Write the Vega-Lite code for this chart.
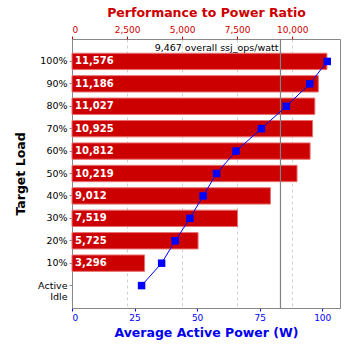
{
  "$schema": "https://vega.github.io/schema/vega-lite/v6.json",
  "width": 268,
  "height": 269,
  "autosize": {"type": "none"},
  "padding": {"left": 72, "top": 39, "right": 8, "bottom": 40},
  "config": {
    "font": "DejaVu Sans",
    "view": {"stroke": "#888888", "strokeWidth": 1}
  },
  "data": {
    "values": [
      {"load": "100%", "ratio": 11576, "power": 102.0, "label": "11,576"},
      {"load": "90%", "ratio": 11186, "power": 95.0, "label": "11,186"},
      {"load": "80%", "ratio": 11027, "power": 85.66, "label": "11,027"},
      {"load": "70%", "ratio": 10925, "power": 75.65, "label": "10,925"},
      {"load": "60%", "ratio": 10812, "power": 65.53, "label": "10,812"},
      {"load": "50%", "ratio": 10219, "power": 57.77, "label": "10,219"},
      {"load": "40%", "ratio": 9012, "power": 52.41, "label": "9,012"},
      {"load": "30%", "ratio": 7519, "power": 47.11, "label": "7,519"},
      {"load": "20%", "ratio": 5725, "power": 41.25, "label": "5,725"},
      {"load": "10%", "ratio": 3296, "power": 35.82, "label": "3,296"},
      {"load": "Active Idle", "ratio": null, "power": 27.8, "label": ""}
    ]
  },
  "encoding": {
    "y": {
      "field": "load",
      "type": "nominal",
      "scale": {
        "domain": ["100%", "90%", "80%", "70%", "60%", "50%", "40%", "30%", "20%", "10%", "Active Idle"],
        "paddingInner": 0.27,
        "paddingOuter": 0.635
      },
      "axis": {
        "title": "Target Load",
        "titleFontSize": 12.5,
        "titleFontWeight": "bold",
        "titleColor": "#000000",
        "titlePadding": 10,
        "labelFontSize": 9.5,
        "labelColor": "#000000",
        "labelPadding": 2,
        "tickSize": 3,
        "tickColor": "#888888",
        "domainColor": "#888888",
        "labelExpr": "datum.label == 'Active Idle' ? ['Active', 'Idle'] : datum.label"
      }
    }
  },
  "layer": [
    {
      "layer": [
        {
          "transform": [{"filter": "datum.ratio != null"}],
          "mark": {"type": "bar", "color": "#cc0000", "stroke": "#e87070", "strokeWidth": 1},
          "encoding": {
            "x": {
              "field": "ratio",
              "type": "quantitative",
              "scale": {"domain": [0, 12170], "nice": false, "zero": true},
              "axis": {
                "orient": "top",
                "title": "Performance to Power Ratio",
                "titleFontSize": 12.5,
                "titleFontWeight": "bold",
                "titleColor": "#cc0000",
                "titlePadding": 6,
                "labelFontSize": 9,
                "labelColor": "#cc0000",
                "tickColor": "#cc0000",
                "tickSize": 3,
                "domain": false,
                "values": [0, 2500, 5000, 7500, 10000],
                "format": ",d",
                "grid": true,
                "gridDash": [3, 3],
                "gridColor": "#d0d0d0"
              }
            }
          }
        },
        {
          "transform": [{"filter": "datum.ratio != null"}],
          "mark": {"type": "text", "color": "#ffffff", "fontWeight": "bold", "fontSize": 10, "align": "left", "baseline": "middle", "dx": 3},
          "encoding": {
            "x": {"datum": 0, "type": "quantitative"},
            "text": {"field": "label"}
          }
        },
        {
          "transform": [{"filter": "datum.load == '100%'"}],
          "mark": {"type": "rule", "color": "#808080", "strokeWidth": 1.2},
          "encoding": {
            "x": {"datum": 9467, "type": "quantitative"},
            "y": null
          }
        },
        {
          "transform": [{"filter": "datum.load == '100%'"}],
          "mark": {"type": "text", "color": "#000000", "fontSize": 9.5, "align": "right", "baseline": "bottom", "dx": -2, "dy": -8},
          "encoding": {
            "x": {"datum": 9467, "type": "quantitative"},
            "text": {"value": "9,467 overall ssj_ops/watt"}
          }
        }
      ]
    },
    {
      "layer": [
        {
          "mark": {"type": "line", "color": "#0000ff", "strokeWidth": 1},
          "encoding": {
            "x": {
              "field": "power",
              "type": "quantitative",
              "scale": {"domain": [0, 107.1], "nice": false, "zero": true},
              "axis": {
                "orient": "bottom",
                "title": "Average Active Power (W)",
                "titleFontSize": 12.5,
                "titleFontWeight": "bold",
                "titleColor": "#0000ee",
                "titlePadding": 4,
                "labelFontSize": 9,
                "labelColor": "#0000ff",
                "tickColor": "#0000ff",
                "tickSize": 3,
                "domainColor": "#888888",
                "values": [0, 25, 50, 75, 100],
                "grid": false
              }
            }
          }
        },
        {
          "mark": {"type": "square", "color": "#0000ff", "filled": true, "size": 56, "opacity": 1},
          "encoding": {
            "x": {"field": "power", "type": "quantitative"}
          }
        }
      ]
    }
  ],
  "resolve": {"scale": {"x": "independent"}, "axis": {"x": "independent"}}
}
